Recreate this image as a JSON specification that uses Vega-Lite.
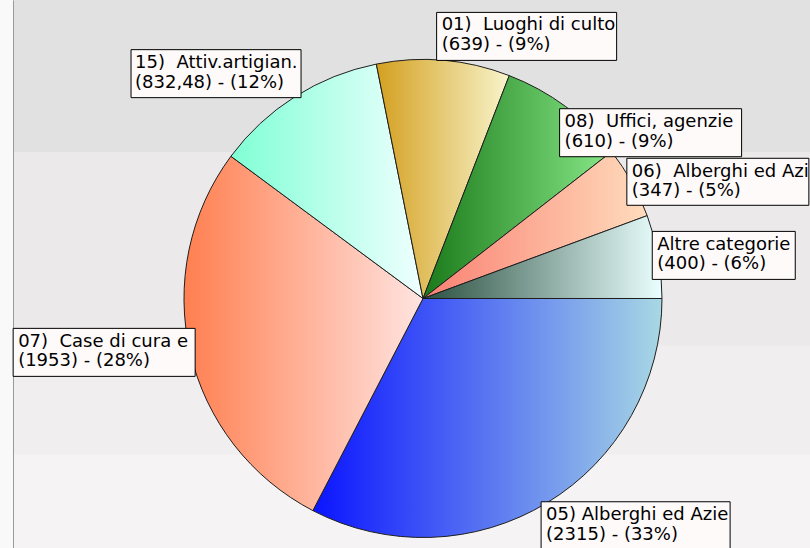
{
  "$schema": "https://vega.github.io/schema/vega-lite/v6.json",
  "autosize": {"type": "none"},
  "padding": {"left": 13, "top": 0, "right": 0, "bottom": 0},
  "width": 797,
  "height": 548,
  "background": "#f9f9f9",
  "view": {
    "stroke": null,
    "fill": {
      "gradient": "linear", "x1": 0, "y1": 0, "x2": 0, "y2": 1,
      "stops": [
        {"offset": 0, "color": "#e1e1e1"},
        {"offset": 0.277, "color": "#e1e1e1"},
        {"offset": 0.278, "color": "#ebe9e9"},
        {"offset": 0.63, "color": "#ebe9e9"},
        {"offset": 0.631, "color": "#f0eeee"},
        {"offset": 0.829, "color": "#f0eeee"},
        {"offset": 0.83, "color": "#f5f3f3"},
        {"offset": 1, "color": "#f5f3f3"}
      ]
    }
  },
  "data": {
    "values": [
      {"ord": 1, "id": "05", "value": 2315, "label": "05) Alberghi ed Azie\n(2315) - (33%)"},
      {"ord": 2, "id": "07", "value": 1953, "label": "07)\u00a0 Case di cura e\n(1953) - (28%)"},
      {"ord": 3, "id": "15", "value": 832.48, "label": "15)\u00a0 Attiv.artigian.\n(832,48) - (12%)"},
      {"ord": 4, "id": "01", "value": 639, "label": "01)\u00a0 Luoghi di culto\n(639) - (9%)"},
      {"ord": 5, "id": "08", "value": 610, "label": "08)\u00a0 Uffici, agenzie\n(610) - (9%)"},
      {"ord": 6, "id": "06", "value": 347, "label": "06)\u00a0 Alberghi ed Azi\n(347) - (5%)"},
      {"ord": 7, "id": "AC", "value": 400, "label": "Altre categorie\n(400) - (6%)"}
    ]
  },
  "transform": [
    {"joinaggregate": [{"op": "sum", "field": "value", "as": "total"}]},
    {"window": [{"op": "sum", "field": "value", "as": "cum"}], "sort": [{"field": "ord"}], "frame": [null, 0]},
    {"calculate": "2*PI*(datum.cum - datum.value/2)/datum.total", "as": "mid"},
    {"calculate": "cos(datum.mid)", "as": "ax"},
    {"calculate": "sin(datum.mid)", "as": "ay"}
  ],
  "layer": [
    {
      "mark": {"type": "arc", "outerRadius": 239, "stroke": "#1e1e1e", "strokeWidth": 1},
      "encoding": {
        "theta": {"field": "value", "type": "quantitative", "stack": true, "scale": {"range": [1.5707963, 7.8539816], "nice": false, "zero": true}},
        "order": {"field": "ord", "type": "quantitative"},
        "detail": {"field": "id", "type": "nominal"},
        "x": {"datum": 0, "type": "quantitative", "scale": {"domain": [-1.71548, 1.61925], "nice": false, "zero": false}, "axis": null},
        "y": {"datum": 0, "type": "quantitative", "scale": {"domain": [-1.24895, 1.04393], "nice": false, "zero": false, "reverse": true}, "axis": {"domain": true, "domainColor": "#9a9a9a", "domainWidth": 1, "ticks": false, "labels": false, "grid": false, "title": null}},
        "fill": {
          "condition": [
            {"test": "datum.id === '05'", "value": {"gradient": "linear", "x1": 0, "y1": 0, "x2": 1, "y2": 0, "stops": [{"offset": 0, "color": "#0a14ff"}, {"offset": 1, "color": "#a8d8e4"}]}},
            {"test": "datum.id === '07'", "value": {"gradient": "linear", "x1": 0, "y1": 0, "x2": 1, "y2": 0, "stops": [{"offset": 0, "color": "#ff7f50"}, {"offset": 1, "color": "#ffe4e1"}]}},
            {"test": "datum.id === '15'", "value": {"gradient": "linear", "x1": 0, "y1": 0, "x2": 1, "y2": 0, "stops": [{"offset": 0, "color": "#7fffd4"}, {"offset": 1, "color": "#f0ffff"}]}},
            {"test": "datum.id === '01'", "value": {"gradient": "linear", "x1": 0, "y1": 0, "x2": 1, "y2": 0, "stops": [{"offset": 0, "color": "#d4a020"}, {"offset": 1, "color": "#f8f4cc"}]}},
            {"test": "datum.id === '08'", "value": {"gradient": "linear", "x1": 0, "y1": 0, "x2": 1, "y2": 0, "stops": [{"offset": 0, "color": "#1a7a1a"}, {"offset": 1, "color": "#88e888"}]}},
            {"test": "datum.id === '06'", "value": {"gradient": "linear", "x1": 0, "y1": 0, "x2": 1, "y2": 0, "stops": [{"offset": 0, "color": "#fa8072"}, {"offset": 1, "color": "#ffdcbc"}]}}
          ],
          "value": {"gradient": "linear", "x1": 0, "y1": 0, "x2": 1, "y2": 0, "stops": [{"offset": 0, "color": "#2a5040"}, {"offset": 1, "color": "#eaffff"}]}
        }
      }
    },
    {
      "transform": [{"filter": "datum.id === '05'"}],
      "encoding": {
        "x": {"field": "ax", "type": "quantitative", "scale": {"domain": [-1.71548, 1.61925], "nice": false, "zero": false}, "axis": null},
        "y": {"field": "ay", "type": "quantitative", "scale": {"domain": [-1.24895, 1.04393], "nice": false, "zero": false, "reverse": true}, "axis": {"domain": true, "domainColor": "#9a9a9a", "domainWidth": 1, "ticks": false, "labels": false, "grid": false, "title": null}}
      },
      "layer": [
        {"mark": {"type": "rect", "fill": "#fffafa", "stroke": "#000000", "strokeWidth": 1, "xOffset": -6, "x2Offset": 183, "yOffset": -1, "y2Offset": 47}, "encoding": {"x2": {"field": "ax"}, "y2": {"field": "ay"}}},
        {"mark": {"type": "text", "align": "left", "baseline": "alphabetic", "dx": -1, "dy": 17.5, "font": "DejaVu Sans", "fontSize": 18, "lineBreak": "\n", "lineHeight": 19.5, "color": "#000000"}, "encoding": {"text": {"field": "label"}}}
      ]
    },
    {
      "transform": [{"filter": "datum.id === '07'"}],
      "encoding": {
        "x": {"field": "ax", "type": "quantitative", "scale": {"domain": [-1.71548, 1.61925], "nice": false, "zero": false}, "axis": null},
        "y": {"field": "ay", "type": "quantitative", "scale": {"domain": [-1.24895, 1.04393], "nice": false, "zero": false, "reverse": true}, "axis": {"domain": true, "domainColor": "#9a9a9a", "domainWidth": 1, "ticks": false, "labels": false, "grid": false, "title": null}}
      },
      "layer": [
        {"mark": {"type": "rect", "fill": "#fffafa", "stroke": "#000000", "strokeWidth": 1, "xOffset": -177, "x2Offset": 5, "yOffset": -24, "y2Offset": 24}, "encoding": {"x2": {"field": "ax"}, "y2": {"field": "ay"}}},
        {"mark": {"type": "text", "align": "left", "baseline": "alphabetic", "dx": -172, "dy": -5.5, "font": "DejaVu Sans", "fontSize": 18, "lineBreak": "\n", "lineHeight": 19.5, "color": "#000000"}, "encoding": {"text": {"field": "label"}}}
      ]
    },
    {
      "transform": [{"filter": "datum.id === '15'"}],
      "encoding": {
        "x": {"field": "ax", "type": "quantitative", "scale": {"domain": [-1.71548, 1.61925], "nice": false, "zero": false}, "axis": null},
        "y": {"field": "ay", "type": "quantitative", "scale": {"domain": [-1.24895, 1.04393], "nice": false, "zero": false, "reverse": true}, "axis": {"domain": true, "domainColor": "#9a9a9a", "domainWidth": 1, "ticks": false, "labels": false, "grid": false, "title": null}}
      },
      "layer": [
        {"mark": {"type": "rect", "fill": "#fffafa", "stroke": "#000000", "strokeWidth": 1, "xOffset": -164, "x2Offset": 6, "yOffset": -47, "y2Offset": 1}, "encoding": {"x2": {"field": "ax"}, "y2": {"field": "ay"}}},
        {"mark": {"type": "text", "align": "left", "baseline": "alphabetic", "dx": -160, "dy": -28.5, "font": "DejaVu Sans", "fontSize": 18, "lineBreak": "\n", "lineHeight": 19.5, "color": "#000000"}, "encoding": {"text": {"field": "label"}}}
      ]
    },
    {
      "transform": [{"filter": "datum.id === '01'"}],
      "encoding": {
        "x": {"field": "ax", "type": "quantitative", "scale": {"domain": [-1.71548, 1.61925], "nice": false, "zero": false}, "axis": null},
        "y": {"field": "ay", "type": "quantitative", "scale": {"domain": [-1.24895, 1.04393], "nice": false, "zero": false, "reverse": true}, "axis": {"domain": true, "domainColor": "#9a9a9a", "domainWidth": 1, "ticks": false, "labels": false, "grid": false, "title": null}}
      },
      "layer": [
        {"mark": {"type": "rect", "fill": "#fffafa", "stroke": "#000000", "strokeWidth": 1, "xOffset": -7, "x2Offset": 173, "yOffset": -48, "y2Offset": 0}, "encoding": {"x2": {"field": "ax"}, "y2": {"field": "ay"}}},
        {"mark": {"type": "text", "align": "left", "baseline": "alphabetic", "dx": -2, "dy": -30, "font": "DejaVu Sans", "fontSize": 18, "lineBreak": "\n", "lineHeight": 19.5, "color": "#000000"}, "encoding": {"text": {"field": "label"}}}
      ]
    },
    {
      "transform": [{"filter": "datum.id === '08'"}],
      "encoding": {
        "x": {"field": "ax", "type": "quantitative", "scale": {"domain": [-1.71548, 1.61925], "nice": false, "zero": false}, "axis": null},
        "y": {"field": "ay", "type": "quantitative", "scale": {"domain": [-1.24895, 1.04393], "nice": false, "zero": false, "reverse": true}, "axis": {"domain": true, "domainColor": "#9a9a9a", "domainWidth": 1, "ticks": false, "labels": false, "grid": false, "title": null}}
      },
      "layer": [
        {"mark": {"type": "rect", "fill": "#fffafa", "stroke": "#000000", "strokeWidth": 1, "xOffset": -6, "x2Offset": 176, "yOffset": 2, "y2Offset": 50}, "encoding": {"x2": {"field": "ax"}, "y2": {"field": "ay"}}},
        {"mark": {"type": "text", "align": "left", "baseline": "alphabetic", "dx": -1, "dy": 20.5, "font": "DejaVu Sans", "fontSize": 18, "lineBreak": "\n", "lineHeight": 19.5, "color": "#000000"}, "encoding": {"text": {"field": "label"}}}
      ]
    },
    {
      "transform": [{"filter": "datum.id === '06'"}],
      "encoding": {
        "x": {"field": "ax", "type": "quantitative", "scale": {"domain": [-1.71548, 1.61925], "nice": false, "zero": false}, "axis": null},
        "y": {"field": "ay", "type": "quantitative", "scale": {"domain": [-1.24895, 1.04393], "nice": false, "zero": false, "reverse": true}, "axis": {"domain": true, "domainColor": "#9a9a9a", "domainWidth": 1, "ticks": false, "labels": false, "grid": false, "title": null}}
      },
      "layer": [
        {"mark": {"type": "rect", "fill": "#fffafa", "stroke": "#000000", "strokeWidth": 1, "xOffset": -5, "x2Offset": 177, "yOffset": -24, "y2Offset": 23}, "encoding": {"x2": {"field": "ax"}, "y2": {"field": "ay"}}},
        {"mark": {"type": "text", "align": "left", "baseline": "alphabetic", "dx": 0, "dy": -5.5, "font": "DejaVu Sans", "fontSize": 18, "lineBreak": "\n", "lineHeight": 19.5, "color": "#000000"}, "encoding": {"text": {"field": "label"}}}
      ]
    },
    {
      "transform": [{"filter": "datum.id === 'AC'"}],
      "encoding": {
        "x": {"field": "ax", "type": "quantitative", "scale": {"domain": [-1.71548, 1.61925], "nice": false, "zero": false}, "axis": null},
        "y": {"field": "ay", "type": "quantitative", "scale": {"domain": [-1.24895, 1.04393], "nice": false, "zero": false, "reverse": true}, "axis": {"domain": true, "domainColor": "#9a9a9a", "domainWidth": 1, "ticks": false, "labels": false, "grid": false, "title": null}}
      },
      "layer": [
        {"mark": {"type": "rect", "fill": "#fffafa", "stroke": "#000000", "strokeWidth": 1, "xOffset": -6, "x2Offset": 137, "yOffset": -25, "y2Offset": 23}, "encoding": {"x2": {"field": "ax"}, "y2": {"field": "ay"}}},
        {"mark": {"type": "text", "align": "left", "baseline": "alphabetic", "dx": -1, "dy": -6.5, "font": "DejaVu Sans", "fontSize": 18, "lineBreak": "\n", "lineHeight": 19.5, "color": "#000000"}, "encoding": {"text": {"field": "label"}}}
      ]
    }
  ]
}
